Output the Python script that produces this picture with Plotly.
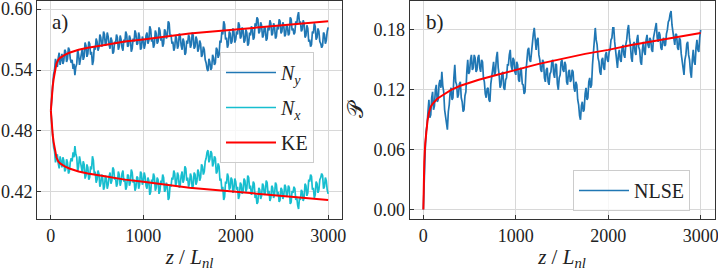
import plotly.graph_objects as go

# ---------------- data ----------------
z = list(range(0, 3001, 10))

Ny = [0.500, 0.517, 0.525, 0.536, 0.540, 0.551, 0.548, 0.543, 0.552, 0.557,
      0.545, 0.553, 0.556, 0.546, 0.549, 0.560, 0.558, 0.548, 0.551, 0.562,
      0.560, 0.551, 0.547, 0.550, 0.541, 0.546, 0.535, 0.543, 0.546, 0.560,
      0.555, 0.545, 0.550, 0.558, 0.561, 0.550, 0.553, 0.567, 0.564, 0.553,
      0.556, 0.568, 0.566, 0.555, 0.558, 0.545, 0.549, 0.563, 0.560, 0.571,
      0.568, 0.559, 0.562, 0.575, 0.572, 0.563, 0.566, 0.578, 0.575, 0.564,
      0.567, 0.577, 0.573, 0.565, 0.561, 0.572, 0.569, 0.556, 0.558, 0.568,
      0.566, 0.575, 0.572, 0.560, 0.563, 0.574, 0.570, 0.562, 0.559, 0.570,
      0.567, 0.578, 0.575, 0.563, 0.564, 0.574, 0.571, 0.558, 0.561, 0.571,
      0.568, 0.579, 0.576, 0.565, 0.566, 0.577, 0.573, 0.560, 0.562, 0.573,
      0.570, 0.561, 0.565, 0.574, 0.577, 0.566, 0.569, 0.583, 0.580, 0.568,
      0.571, 0.562, 0.565, 0.579, 0.576, 0.566, 0.568, 0.582, 0.579, 0.569,
      0.572, 0.563, 0.566, 0.580, 0.578, 0.571, 0.574, 0.588, 0.586, 0.573,
      0.575, 0.566, 0.568, 0.559, 0.562, 0.574, 0.571, 0.561, 0.564, 0.576,
      0.573, 0.564, 0.560, 0.571, 0.568, 0.555, 0.557, 0.569, 0.566, 0.575,
      0.572, 0.562, 0.565, 0.577, 0.574, 0.561, 0.563, 0.573, 0.570, 0.558,
      0.561, 0.569, 0.566, 0.553, 0.555, 0.563, 0.560, 0.550, 0.547, 0.541,
      0.539, 0.551, 0.548, 0.540, 0.542, 0.555, 0.552, 0.545, 0.547, 0.562,
      0.560, 0.552, 0.555, 0.569, 0.567, 0.578, 0.575, 0.588, 0.585, 0.570,
      0.572, 0.562, 0.565, 0.578, 0.576, 0.566, 0.568, 0.581, 0.578, 0.567,
      0.570, 0.578, 0.575, 0.587, 0.584, 0.571, 0.573, 0.582, 0.579, 0.567,
      0.569, 0.580, 0.577, 0.564, 0.566, 0.577, 0.574, 0.583, 0.580, 0.570,
      0.572, 0.586, 0.583, 0.592, 0.590, 0.576, 0.578, 0.587, 0.584, 0.572,
      0.574, 0.583, 0.581, 0.569, 0.571, 0.582, 0.579, 0.589, 0.586, 0.574,
      0.576, 0.586, 0.583, 0.571, 0.573, 0.583, 0.580, 0.590, 0.588, 0.576,
      0.578, 0.587, 0.584, 0.573, 0.575, 0.585, 0.582, 0.574, 0.576, 0.592,
      0.590, 0.579, 0.581, 0.575, 0.577, 0.588, 0.585, 0.593, 0.597, 0.586,
      0.588, 0.578, 0.580, 0.589, 0.586, 0.572, 0.574, 0.584, 0.581, 0.568,
      0.570, 0.563, 0.565, 0.578, 0.576, 0.586, 0.583, 0.570, 0.572, 0.581,
      0.578, 0.568, 0.566, 0.562, 0.564, 0.577, 0.575, 0.566, 0.569, 0.578,
      0.582]

Nx = [0.500, 0.483, 0.475, 0.464, 0.460, 0.449, 0.452, 0.457, 0.448, 0.443,
      0.455, 0.447, 0.444, 0.454, 0.451, 0.440, 0.442, 0.452, 0.449, 0.438,
      0.440, 0.449, 0.453, 0.450, 0.459, 0.454, 0.465, 0.457, 0.454, 0.440,
      0.445, 0.455, 0.450, 0.442, 0.439, 0.450, 0.447, 0.433, 0.436, 0.447,
      0.444, 0.432, 0.434, 0.445, 0.442, 0.455, 0.451, 0.437, 0.440, 0.429,
      0.432, 0.441, 0.438, 0.425, 0.428, 0.437, 0.434, 0.422, 0.425, 0.436,
      0.433, 0.423, 0.427, 0.435, 0.439, 0.428, 0.431, 0.444, 0.442, 0.432,
      0.434, 0.425, 0.428, 0.440, 0.437, 0.426, 0.430, 0.438, 0.441, 0.430,
      0.433, 0.422, 0.425, 0.437, 0.436, 0.426, 0.429, 0.442, 0.439, 0.429,
      0.432, 0.421, 0.424, 0.435, 0.434, 0.423, 0.427, 0.440, 0.438, 0.427,
      0.430, 0.439, 0.435, 0.426, 0.423, 0.434, 0.431, 0.417, 0.420, 0.432,
      0.429, 0.438, 0.435, 0.421, 0.424, 0.434, 0.432, 0.418, 0.421, 0.431,
      0.428, 0.437, 0.434, 0.420, 0.422, 0.429, 0.426, 0.412, 0.414, 0.427,
      0.425, 0.434, 0.432, 0.441, 0.438, 0.426, 0.429, 0.439, 0.436, 0.424,
      0.427, 0.436, 0.440, 0.429, 0.432, 0.445, 0.443, 0.431, 0.434, 0.425,
      0.428, 0.438, 0.435, 0.423, 0.426, 0.439, 0.437, 0.427, 0.430, 0.442,
      0.439, 0.431, 0.434, 0.447, 0.445, 0.437, 0.440, 0.450, 0.453, 0.459,
      0.461, 0.449, 0.452, 0.460, 0.458, 0.445, 0.448, 0.455, 0.453, 0.438,
      0.440, 0.448, 0.445, 0.431, 0.433, 0.422, 0.425, 0.412, 0.415, 0.430,
      0.428, 0.438, 0.435, 0.422, 0.424, 0.434, 0.432, 0.419, 0.422, 0.433,
      0.430, 0.422, 0.425, 0.413, 0.416, 0.429, 0.427, 0.418, 0.421, 0.433,
      0.431, 0.420, 0.423, 0.436, 0.434, 0.423, 0.426, 0.417, 0.420, 0.430,
      0.428, 0.414, 0.417, 0.408, 0.410, 0.424, 0.422, 0.413, 0.416, 0.428,
      0.426, 0.417, 0.419, 0.431, 0.429, 0.418, 0.421, 0.411, 0.414, 0.426,
      0.424, 0.414, 0.417, 0.429, 0.427, 0.417, 0.420, 0.410, 0.412, 0.424,
      0.422, 0.413, 0.416, 0.427, 0.425, 0.415, 0.418, 0.426, 0.424, 0.408,
      0.410, 0.421, 0.419, 0.425, 0.423, 0.412, 0.415, 0.407, 0.403, 0.414,
      0.412, 0.422, 0.420, 0.411, 0.414, 0.428, 0.426, 0.416, 0.419, 0.432,
      0.430, 0.437, 0.435, 0.422, 0.424, 0.414, 0.417, 0.430, 0.428, 0.419,
      0.422, 0.432, 0.434, 0.438, 0.436, 0.423, 0.425, 0.434, 0.431, 0.422,
      0.418]

P = [0.000, 0.042, 0.060, 0.078, 0.085, 0.098, 0.110, 0.092, 0.095, 0.112,
     0.118, 0.100, 0.104, 0.120, 0.125, 0.108, 0.110, 0.126, 0.130, 0.122,
     0.138, 0.124, 0.118, 0.100, 0.092, 0.086, 0.080, 0.098, 0.105, 0.118,
     0.122, 0.110, 0.112, 0.132, 0.145, 0.128, 0.125, 0.112, 0.115, 0.126,
     0.128, 0.112, 0.108, 0.098, 0.100, 0.114, 0.118, 0.138, 0.150, 0.136,
     0.138, 0.150, 0.155, 0.140, 0.142, 0.155, 0.152, 0.138, 0.140, 0.152,
     0.155, 0.142, 0.138, 0.150, 0.148, 0.132, 0.128, 0.116, 0.112, 0.121,
     0.122, 0.110, 0.108, 0.126, 0.135, 0.146, 0.148, 0.134, 0.138, 0.152,
     0.158, 0.142, 0.135, 0.122, 0.125, 0.136, 0.138, 0.122, 0.120, 0.130,
     0.132, 0.145, 0.145, 0.155, 0.160, 0.144, 0.140, 0.152, 0.150, 0.138,
     0.135, 0.148, 0.145, 0.130, 0.128, 0.142, 0.140, 0.126, 0.125, 0.116,
     0.118, 0.138, 0.150, 0.160, 0.162, 0.150, 0.148, 0.160, 0.165, 0.176,
     0.182, 0.166, 0.160, 0.170, 0.172, 0.155, 0.150, 0.140, 0.138, 0.150,
     0.148, 0.132, 0.128, 0.140, 0.142, 0.128, 0.125, 0.136, 0.138, 0.148,
     0.150, 0.136, 0.132, 0.146, 0.145, 0.126, 0.120, 0.132, 0.135, 0.148,
     0.150, 0.140, 0.138, 0.148, 0.145, 0.128, 0.125, 0.138, 0.140, 0.128,
     0.130, 0.140, 0.138, 0.122, 0.118, 0.128, 0.125, 0.110, 0.105, 0.094,
     0.090, 0.104, 0.108, 0.098, 0.100, 0.116, 0.122, 0.110, 0.112, 0.128,
     0.132, 0.122, 0.125, 0.145, 0.160, 0.175, 0.182, 0.170, 0.165, 0.152,
     0.148, 0.138, 0.135, 0.150, 0.152, 0.142, 0.140, 0.155, 0.158, 0.150,
     0.148, 0.158, 0.160, 0.170, 0.172, 0.182, 0.182, 0.168, 0.158, 0.146,
     0.142, 0.155, 0.160, 0.150, 0.148, 0.162, 0.165, 0.155, 0.152, 0.165,
     0.170, 0.180, 0.185, 0.172, 0.165, 0.152, 0.148, 0.165, 0.168, 0.158,
     0.155, 0.170, 0.175, 0.163, 0.160, 0.148, 0.145, 0.160, 0.168, 0.158,
     0.155, 0.170, 0.175, 0.165, 0.162, 0.172, 0.170, 0.160, 0.158, 0.172,
     0.178, 0.185, 0.187, 0.172, 0.168, 0.178, 0.175, 0.162, 0.160, 0.170,
     0.172, 0.164, 0.165, 0.176, 0.180, 0.188, 0.190, 0.196, 0.199, 0.185,
     0.178, 0.168, 0.165, 0.176, 0.175, 0.162, 0.160, 0.172, 0.170, 0.156,
     0.148, 0.138, 0.135, 0.150, 0.155, 0.166, 0.168, 0.155, 0.150, 0.138,
     0.132, 0.150, 0.160, 0.148, 0.145, 0.162, 0.170, 0.160, 0.158, 0.172,
     0.180]

ke_z = [0, 5, 10, 20, 30, 45, 60, 80, 100, 150, 200, 300, 400, 600, 800,
        1000, 1250, 1500, 1750, 2000, 2250, 2500, 2750, 3000]
ke_Ny = [0.500, 0.510, 0.516, 0.524, 0.531, 0.540, 0.546, 0.550, 0.552, 0.555,
         0.557, 0.560, 0.562, 0.565, 0.568, 0.570, 0.573, 0.576, 0.578, 0.580,
         0.582, 0.584, 0.586, 0.588]
ke_Nx = [0.500, 0.490, 0.484, 0.476, 0.469, 0.460, 0.454, 0.450, 0.448, 0.445,
         0.443, 0.440, 0.438, 0.435, 0.432, 0.430, 0.427, 0.424, 0.422, 0.420,
         0.418, 0.416, 0.414, 0.412]
ke_P = [0.000, 0.035, 0.048, 0.066, 0.078, 0.089, 0.097, 0.103, 0.106, 0.111,
        0.114, 0.120, 0.124, 0.130, 0.135, 0.140, 0.146, 0.151, 0.156, 0.160,
        0.165, 0.169, 0.173, 0.177]

x_ticks = [0, 1000, 2000, 3000]
y1_ticks = [0.42, 0.48, 0.54, 0.60]
y2_ticks = [0.00, 0.06, 0.12, 0.18]

assert len(Ny) == len(z) and len(Nx) == len(z) and len(P) == len(z), (len(Ny), len(Nx), len(P), len(z))

# ---------------- figure ----------------
W, H = 718, 271
FONT = "Liberation Serif"
BLUE = "#2077b4"
CYAN = "#17becf"
RED = "#ff0000"
TXT = "#222222"
LW = 1.7

fig = go.Figure()
fig.add_trace(go.Scatter(x=z, y=Ny, mode="lines", line=dict(color=BLUE, width=LW),
                         name="<i>N</i><sub><i>y</i></sub>", legendgroup="a",
                         xaxis="x", yaxis="y", legend="legend"))
fig.add_trace(go.Scatter(x=z, y=Nx, mode="lines", line=dict(color=CYAN, width=LW),
                         name="<i>N</i><sub><i>x</i></sub>", legendgroup="b",
                         xaxis="x", yaxis="y", legend="legend"))
fig.add_trace(go.Scatter(x=ke_z, y=ke_Ny, mode="lines", line=dict(color=RED, width=2),
                         name="KE", legendgroup="c", xaxis="x", yaxis="y", legend="legend"))
fig.add_trace(go.Scatter(x=ke_z, y=ke_Nx, mode="lines", line=dict(color=RED, width=2),
                         name="KE", showlegend=False, xaxis="x", yaxis="y"))
fig.add_trace(go.Scatter(x=z, y=P, mode="lines", line=dict(color=BLUE, width=LW),
                         name="NLSE", xaxis="x2", yaxis="y2", legend="legend2"))
fig.add_trace(go.Scatter(x=ke_z, y=ke_P, mode="lines", line=dict(color=RED, width=2),
                         name="KE", showlegend=False, xaxis="x2", yaxis="y2"))

ydom = [52 / H, 1 - 1 / H]
axis_common = dict(showgrid=True, gridcolor="#d8d8d8", gridwidth=1, zeroline=False,
                   showline=True, linecolor="#333333", linewidth=1, mirror=True,
                   ticks="inside", ticklen=4, tickcolor="#333333", automargin=False,
                   ticklabeloverflow="allow",
                   tickfont=dict(family=FONT, size=18, color=TXT))
xtitle = dict(text="<i>z</i> / <i>L</i><sub><i>nl</i></sub>",
              font=dict(family=FONT, size=21, color=TXT), standoff=4)
leg_common = dict(xanchor="left", yanchor="top", bgcolor="rgba(255,255,255,0.8)",
                  bordercolor="#cccccc", borderwidth=1, itemwidth=50,
                  font=dict(family=FONT, size=20, color=TXT))

fig.update_layout(
    template="none",
    font=dict(family=FONT, color=TXT),
    width=W, height=H,
    margin=dict(l=0, r=0, t=0, b=0, autoexpand=False),
    paper_bgcolor="white", plot_bgcolor="white",
    xaxis=dict(domain=[37 / W, 342 / W], range=[-150, 3150], tickvals=x_ticks,
               anchor="y", title=xtitle, **axis_common),
    yaxis=dict(domain=ydom, range=[0.3932, 0.608], tickvals=y1_ticks,
               tickformat=".2f", anchor="x", **axis_common),
    xaxis2=dict(domain=[409.5 / W, 714.5 / W], range=[-150, 3150], tickvals=x_ticks,
                anchor="y2", title=xtitle, **axis_common),
    yaxis2=dict(domain=ydom, range=[-0.0095, 0.209], tickvals=y2_ticks,
                tickformat=".2f", anchor="x2",
                title=dict(text="𝒫", font=dict(family="DejaVu Serif", size=22, color=TXT),
                           standoff=3),
                **axis_common),
    legend=dict(x=220 / W, y=1 - 52 / H, tracegroupgap=6, **leg_common),
    legend2=dict(x=573 / W, y=1 - 170 / H, **leg_common),
    annotations=[
        dict(text="a)", xref="x domain", yref="y domain", x=0.075, y=0.905,
             xanchor="center", yanchor="middle",
             showarrow=False, font=dict(family=FONT, size=21, color=TXT)),
        dict(text="b)", xref="x2 domain", yref="y2 domain", x=0.085, y=0.905,
             xanchor="center", yanchor="middle",
             showarrow=False, font=dict(family=FONT, size=21, color=TXT)),
    ],
)

fig.write_html("out.html", config={"displayModeBar": False},
               post_script="document.body.style.margin='0px';document.body.style.padding='0px';")
